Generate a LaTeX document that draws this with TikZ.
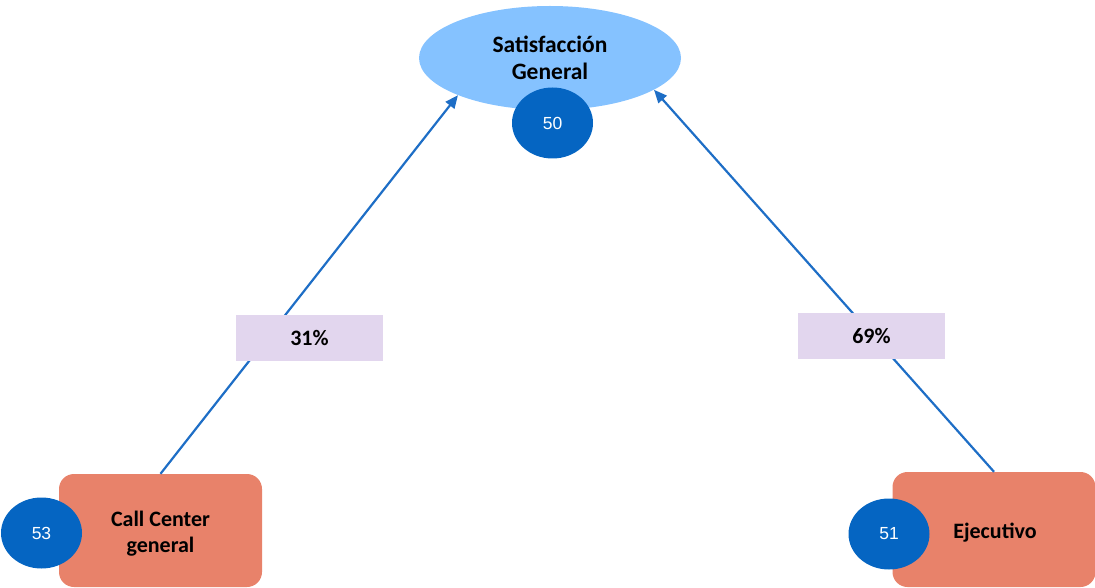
\documentclass[tikz,border=0pt]{standalone}
\usepackage{fontspec}
\setmainfont{Carlito}
\newfontfamily\numfont{Liberation Sans}
\usetikzlibrary{shapes.geometric,arrows.meta}
\definecolor{ellfill}{HTML}{85C2FF}
\definecolor{circfill}{HTML}{0565C2}
\definecolor{linecol}{HTML}{1E6EC6}
\definecolor{boxfill}{HTML}{E8826A}
\definecolor{labfill}{HTML}{E2D6EE}
\tikzset{
  topell/.style={ellipse, fill=ellfill, minimum width=262pt, minimum height=104pt, inner sep=0pt, align=center, font=\bfseries\fontsize{23.5}{27}\selectfont},
  scorecirc/.style={ellipse, fill=circfill, minimum width=81pt, minimum height=71pt, inner sep=0pt, text=white, font=\numfont\fontsize{17.5}{20}\selectfont},
  driverbox/.style={rectangle, rounded corners=15pt, fill=boxfill, minimum width=203pt, inner sep=0pt},
  boxtext/.style={align=center, inner sep=0pt, font=\bfseries\fontsize{22}{26}\selectfont},
  wlabel/.style={rectangle, fill=labfill, minimum width=147pt, minimum height=46pt, inner sep=0pt, font=\bfseries\fontsize{22}{26}\selectfont},
  conn/.style={draw=linecol, line width=2.2pt, -{Triangle[length=13pt,width=11pt]}}
}
\begin{document}
\begin{tikzpicture}[x=1pt,y=-1pt]
\useasboundingbox (0,0) rectangle (1095,588);
\node[topell] (sat) at (550,58) {Satisfacción\\General};
\node[scorecirc] (s50) at (552.5,123) {50};
\node[driverbox, minimum height=113pt] (cc) at (160.5,530.5) {};
\node[boxtext] (cctext) at (160.5,534) {Call Center\\general};
\node[driverbox, minimum height=115pt] (ej) at (994,529.5) {};
\node[boxtext] (ejtext) at (995,532.5) {Ejecutivo};
\node[scorecirc] (s53) at (41.5,533) {53};
\node[scorecirc] (s51) at (889,534) {51};
\draw[conn] (cc.north) -- (sat.202.4);
\draw[conn] (ej.north) -- (sat.343.6);
\node[wlabel] (l31) at (309.5,338) {31\%};
\node[wlabel] (l69) at (871.5,336) {69\%};
\end{tikzpicture}
\end{document}
